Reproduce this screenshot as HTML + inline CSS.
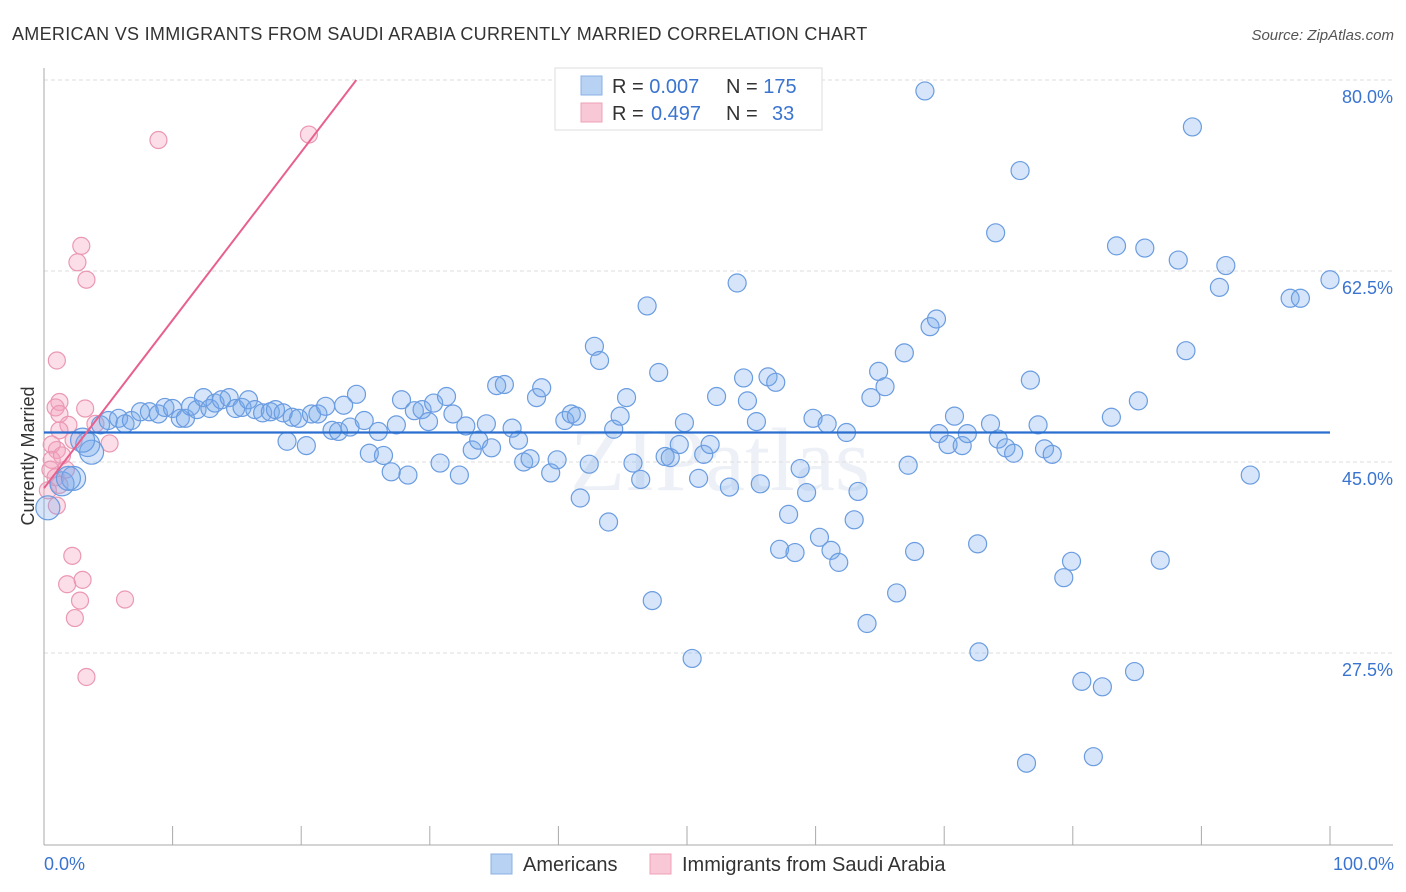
<!DOCTYPE html>
<html><head><meta charset="utf-8"><style>
body{margin:0;background:#fff;font-family:"Liberation Sans",sans-serif;}
svg{display:block}
</style></head><body>
<svg id="chart" width="1406" height="892">
<text x="12" y="40" font-size="18" fill="#333" letter-spacing="0.3">AMERICAN VS IMMIGRANTS FROM SAUDI ARABIA CURRENTLY MARRIED CORRELATION CHART</text>
<text x="1394" y="40" font-size="15" fill="#555" font-style="italic" text-anchor="end">Source: ZipAtlas.com</text>
<text x="720" y="490" font-size="90" fill="#edf1f7" text-anchor="middle" font-family="Liberation Serif,serif">ZIPatlas</text>
<g id="grid"></g><g id="axes"></g><g id="pts"></g><g id="lines"></g>
<text transform="translate(34,456) rotate(-90)" font-size="18" fill="#333" text-anchor="middle">Currently Married</text>
<text x="44" y="870" font-size="18" fill="#3a74d0">0.0%</text>
<text x="1394" y="870" font-size="18" fill="#3a74d0" text-anchor="end">100.0%</text>
<g>
<rect x="555" y="68" width="267" height="62" fill="#fff" stroke="#ddd"/>
<rect x="581" y="76" width="21" height="19" fill="#b8d2f4" stroke="#8ab0e6"/>
<rect x="581" y="103" width="21" height="19" fill="#f9c8d6" stroke="#f0a0b8"/>
<text x="612" y="93" font-size="20" fill="#333">R = <tspan fill="#3a74d0">0.007</tspan><tspan x="726">N = </tspan><tspan fill="#3a74d0">175</tspan></text>
<text x="612" y="120" font-size="20" fill="#333">R = <tspan fill="#3a74d0" x="651">0.497</tspan><tspan x="726">N = </tspan><tspan fill="#3a74d0" x="772">33</tspan></text>
</g>
<g>
<rect x="491" y="854" width="21" height="20" fill="#b8d2f4" stroke="#8ab0e6"/>
<text x="523" y="871" font-size="20" fill="#333">Americans</text>
<rect x="650" y="854" width="21" height="20" fill="#f9c8d6" stroke="#f0a0b8"/>
<text x="682" y="871" font-size="20" fill="#333">Immigrants from Saudi Arabia</text>
</g>
</svg>
<script>
const yTicks=[80.0,62.5,45.0,27.5];
const xTicks=[0,10,20,30,40,50,60,70,80,90,100];
const blueX=[0.3,1.4,2.3,1.9,3.4,3.7,3.0,4.4,5.0,5.8,6.3,6.8,7.5,8.2,8.9,9.4,10.0,10.6,11.0,11.4,11.9,12.4,12.9,13.3,13.8,14.4,14.9,15.4,15.9,16.4,17.0,17.6,18.0,18.6,18.9,19.3,19.8,20.4,20.8,21.3,21.9,22.4,22.9,23.3,23.8,24.3,24.9,25.3,26.0,26.4,27.0,27.4,27.8,28.3,28.8,29.4,29.9,30.3,30.8,31.3,31.8,32.3,32.8,33.3,33.8,34.4,34.8,35.2,35.8,36.4,36.9,37.3,37.8,38.3,38.7,39.4,39.9,40.5,41.0,41.4,41.7,42.4,42.8,43.2,43.9,44.3,44.8,45.3,45.8,46.4,46.9,47.3,47.8,48.3,48.7,49.4,49.8,50.4,50.9,51.3,51.8,52.3,53.3,53.9,54.4,54.7,55.4,55.7,56.3,56.9,57.2,57.9,58.4,58.8,59.3,59.8,60.3,60.9,61.2,61.8,62.4,63.0,63.3,64.0,64.3,64.9,65.4,66.3,66.9,67.2,67.7,68.9,69.4,69.6,70.3,70.8,71.4,71.8,72.6,72.7,73.6,74.0,74.2,74.8,75.4,75.9,76.4,76.7,77.3,77.8,78.4,79.3,79.9,80.7,81.6,82.3,83.0,83.4,84.8,85.1,85.6,86.8,88.2,88.8,89.3,91.4,91.9,93.8,96.9,97.7,100.0,68.5];
const blueY=[40.8,43.0,43.5,43.5,46.6,45.9,47.0,48.4,48.8,49.0,48.5,48.8,49.6,49.6,49.4,50.0,49.9,49.0,49.0,50.1,49.8,50.9,49.9,50.4,50.7,50.9,49.9,50.0,50.7,49.8,49.5,49.6,49.8,49.5,46.9,49.1,49.0,46.5,49.4,49.4,50.1,47.9,47.8,50.2,48.2,51.2,48.8,45.8,47.8,45.6,44.1,48.4,50.7,43.8,49.7,49.8,48.7,50.4,44.9,51.0,49.4,43.8,48.3,46.1,47.0,48.5,46.3,52.0,52.1,48.1,47.0,45.0,45.3,50.9,51.8,44.0,45.2,48.8,49.4,49.2,41.7,44.8,55.6,54.3,39.5,48.0,49.2,50.9,44.9,43.4,59.3,32.3,53.2,45.5,45.4,46.6,48.6,27.0,43.5,45.7,46.6,51.0,42.7,61.4,52.7,50.6,48.7,43.0,52.8,52.3,37.0,40.2,36.7,44.4,42.2,49.0,38.1,48.5,36.9,35.8,47.7,39.7,42.3,30.2,50.9,53.3,51.9,33.0,55.0,44.7,36.8,57.4,58.1,47.6,46.6,49.2,46.5,47.6,37.5,27.6,48.5,66.0,47.1,46.3,45.8,71.7,17.4,52.5,48.4,46.2,45.7,34.4,35.9,24.9,18.0,24.4,49.1,64.8,25.8,50.6,64.6,36.0,63.5,55.2,75.7,61.0,63.0,43.8,60.0,60.0,61.7,79.0];
const pinkX=[8.9,20.6,2.9,2.6,3.3,1.0,1.2,0.9,1.2,1.9,3.2,4.0,2.3,5.1,1.0,0.6,0.5,0.9,1.2,0.3,1.0,2.2,1.8,3.0,2.8,2.4,6.3,3.3,1.2,1.7,0.6,1.4];
const pinkY=[74.5,75.0,64.8,63.3,61.7,54.3,50.5,50.0,49.4,48.4,49.9,48.5,47.0,46.7,46.1,45.2,44.3,43.6,42.9,42.4,41.0,36.4,33.8,34.2,32.3,30.7,32.4,25.3,47.9,44.3,46.6,45.6];
const blueTrend=[47.7,47.7];
const pinkTrend=[42.6,1.54];
const NS='http://www.w3.org/2000/svg';
const X=v=>44+v*12.86, Y=v=>80+(80-v)*10.914;
function mk(tag,attrs,parent){const e=document.createElementNS(NS,tag);for(const k in attrs)e.setAttribute(k,attrs[k]);parent.appendChild(e);return e;}
const grid=document.getElementById('grid'),axes=document.getElementById('axes'),pts=document.getElementById('pts'),lines=document.getElementById('lines');
yTicks.forEach(t=>{
 const l=mk('line',{x1:44,x2:1393,y1:Y(t),y2:Y(t),stroke:'#ddd','stroke-dasharray':'4,3'},grid);
 
 
 const tx=mk('text',{x:1393,y:Y(t)+23,'font-size':18,fill:'#3a74d0','text-anchor':'end'},grid);
 tx.textContent=t.toFixed(1)+'%';
 
 
});
let a=mk('line',{x1:44,x2:44,y1:68,y2:845,stroke:'#aaa'},axes);


a=mk('line',{x1:44,x2:1393,y1:845,y2:845,stroke:'#aaa'},axes);


xTicks.forEach(t=>{
 const l=mk('line',{x1:X(t),x2:X(t),y1:826,y2:845,stroke:'#aaa'},axes);
 
 
});
pinkX.forEach((v,i)=>{
 const c=mk('circle',{cx:X(v),cy:Y(pinkY[i]),r:8.5,fill:'rgba(244,160,188,0.35)',stroke:'#eb98b2','stroke-width':1.2},pts);
 
 
});
blueX.forEach((v,i)=>{
 const c=mk('circle',{cx:X(v),cy:Y(blueY[i]),r:i<7?12:9,fill:'rgba(120,170,235,0.3)',stroke:'#6a9ce0','stroke-width':1.2},pts);
 
 
});
let ln=mk('line',{x1:X(0),x2:X(100),y1:Y(blueTrend[0]),y2:Y(blueTrend[1]),stroke:'#2a6fd0','stroke-width':2.2},lines);


const xEnd=(80-pinkTrend[0])/pinkTrend[1];
ln=mk('line',{x1:X(0),x2:X(xEnd),y1:Y(pinkTrend[0]),y2:Y(80),stroke:'#e8608e','stroke-width':2},lines);


</script>
</body></html>
